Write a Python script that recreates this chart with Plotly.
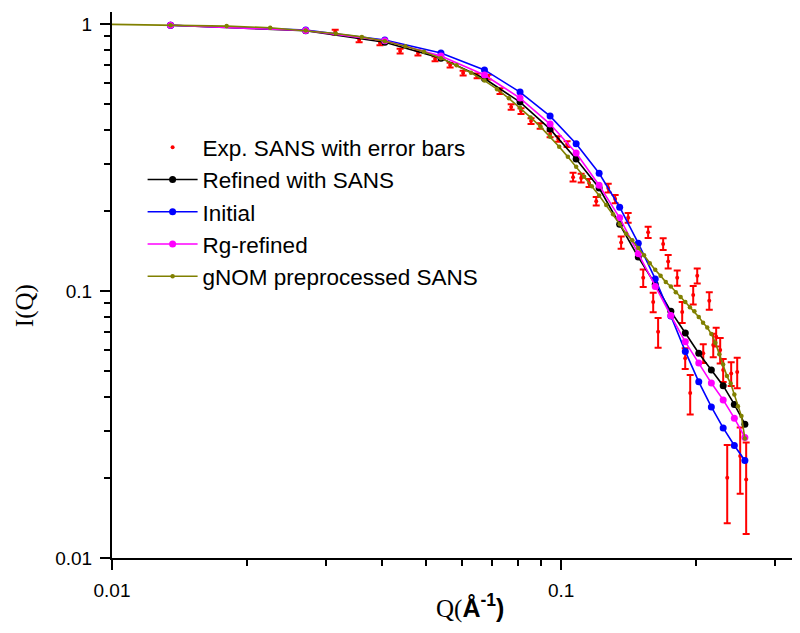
import plotly.graph_objects as go

# ---------------- data ----------------
q_exp = [0.0314, 0.0355, 0.0395, 0.0438, 0.0480, 0.0524, 0.0566, 0.0605, 0.0650, 0.0688,
         0.0731, 0.0774, 0.0814, 0.0857, 0.0898, 0.0945, 0.0985, 0.1031, 0.1063, 0.1108,
         0.1154, 0.1197, 0.1273, 0.1319, 0.1360, 0.1410, 0.1523, 0.1562, 0.1603, 0.1644,
         0.1687, 0.1731, 0.1813, 0.1860, 0.1889, 0.1938, 0.1968, 0.2009, 0.2072, 0.2137,
         0.2181, 0.2214, 0.2260, 0.2295, 0.2343, 0.2391, 0.2466, 0.2504, 0.2582]
i_exp = [0.933, 0.871, 0.849, 0.792, 0.779, 0.740, 0.702, 0.655, 0.639, 0.633,
         0.561, 0.489, 0.472, 0.433, 0.415, 0.387, 0.371, 0.355, 0.267, 0.265,
         0.254, 0.217, 0.243, 0.221, 0.152, 0.188, 0.112, 0.166, 0.0909, 0.0703,
         0.150, 0.129, 0.112, 0.0834, 0.0560, 0.0415, 0.0967, 0.114, 0.0585, 0.0920,
         0.0628, 0.0674, 0.0601, 0.0506, 0.0200, 0.0491, 0.0497, 0.0241, 0.0197]
err_exp = [0.019, 0.017, 0.017, 0.016, 0.016, 0.015, 0.014, 0.013, 0.013, 0.013,
           0.014, 0.012, 0.012, 0.011, 0.010, 0.010, 0.009, 0.009, 0.010, 0.010,
           0.009, 0.008, 0.009, 0.008, 0.008, 0.008, 0.0085, 0.008, 0.0077, 0.009,
           0.0075, 0.0075, 0.0073, 0.0075, 0.005, 0.007, 0.0077, 0.0074, 0.0047, 0.0069,
           0.0063, 0.0054, 0.0066, 0.005, 0.0065, 0.005, 0.0065, 0.0067, 0.0074]

q_model = [0.0135, 0.027, 0.0405, 0.054, 0.0675, 0.081, 0.0945, 0.108, 0.1215, 0.135,
           0.1485, 0.162, 0.1755, 0.189, 0.2025, 0.216, 0.2295, 0.243, 0.2565]
i_refined = [0.99, 0.943, 0.855, 0.745, 0.625, 0.51, 0.404, 0.312, 0.243, 0.178,
             0.134, 0.106, 0.0839, 0.0696, 0.0585, 0.0506, 0.0442, 0.0376, 0.0317]
i_initial = [0.99, 0.95, 0.871, 0.779, 0.673, 0.556, 0.452, 0.356, 0.276, 0.206,
             0.151, 0.111, 0.0806, 0.0594, 0.0457, 0.0368, 0.0307, 0.0264, 0.0232]
i_rg = [0.99, 0.945, 0.865, 0.759, 0.644, 0.528, 0.422, 0.329, 0.249, 0.188,
        0.138, 0.104, 0.0809, 0.0645, 0.0537, 0.0452, 0.0391, 0.0334, 0.0283]

q_gnom = [0.009, 0.0135, 0.018, 0.0225, 0.027, 0.0315, 0.036, 0.0405, 0.045, 0.0495,
          0.054, 0.0585, 0.063, 0.0675, 0.072, 0.0765, 0.081, 0.0855, 0.09, 0.0945,
          0.099, 0.1035, 0.108, 0.1125, 0.117, 0.1215, 0.126, 0.1305, 0.135, 0.1395,
          0.144, 0.1485, 0.153, 0.1575, 0.162, 0.1665, 0.171, 0.1755, 0.18, 0.1845,
          0.189, 0.1935, 0.198, 0.2025, 0.207, 0.2115, 0.216, 0.2205, 0.225, 0.2295,
          0.234, 0.2385, 0.243, 0.2475, 0.252, 0.2565]
i_gnom = [1.00, 0.99, 0.982, 0.968, 0.945, 0.922, 0.895, 0.862, 0.826, 0.788,
          0.745, 0.700, 0.657, 0.614, 0.570, 0.527, 0.486, 0.447, 0.412, 0.378,
          0.347, 0.318, 0.292, 0.268, 0.247, 0.228, 0.210, 0.194, 0.178, 0.164,
          0.155, 0.145, 0.136, 0.127, 0.120, 0.114, 0.108, 0.104, 0.099, 0.095,
          0.091, 0.087, 0.084, 0.080, 0.076, 0.073, 0.069, 0.064, 0.058, 0.053,
          0.048, 0.045, 0.041, 0.037, 0.034, 0.028]

x_major = [0.01, 0.1]
x_major_text = ["0.01", "0.1"]
x_minor = [0.02, 0.03, 0.04, 0.05, 0.06, 0.07, 0.08, 0.09, 0.2, 0.3]
y_major = [0.01, 0.1, 1]
y_major_text = ["0.01", "0.1", "1"]
y_minor = [0.02, 0.03, 0.04, 0.05, 0.06, 0.07, 0.08, 0.09,
           0.2, 0.3, 0.4, 0.5, 0.6, 0.7, 0.8, 0.9]

# ---------------- figure ----------------
fig = go.Figure()

fig.add_trace(go.Scatter(
    x=q_exp, y=i_exp, mode="markers", name="Exp. SANS with error bars",
    marker=dict(color="#FF0000", size=4),
    error_y=dict(type="data", array=err_exp, color="#FF0000", thickness=2, width=3.5),
))
fig.add_trace(go.Scatter(
    x=q_model, y=i_refined, mode="lines+markers", name="Refined with SANS",
    line=dict(color="#000000", width=1.6), marker=dict(color="#000000", size=7),
))
fig.add_trace(go.Scatter(
    x=q_model, y=i_initial, mode="lines+markers", name="Initial",
    line=dict(color="#0000FF", width=1.6), marker=dict(color="#0000FF", size=7),
))
fig.add_trace(go.Scatter(
    x=q_model, y=i_rg, mode="lines+markers", name="Rg-refined",
    line=dict(color="#FF00FF", width=1.6), marker=dict(color="#FF00FF", size=7),
))
fig.add_trace(go.Scatter(
    x=q_gnom, y=i_gnom, mode="lines+markers", name="gNOM preprocessed SANS",
    line=dict(color="#808000", width=1.6), marker=dict(color="#808000", size=4.5),
))

axis_common = dict(
    type="log", showgrid=False, zeroline=False, showline=True,
    linecolor="black", linewidth=2, ticks="outside", ticklen=10, tickwidth=2,
    tickcolor="black", mirror=False, ticklabelstandoff=4,
    tickfont=dict(family="Liberation Sans, Arial, sans-serif", size=19, color="black"),
)

fig.update_layout(
    width=800, height=633,
    margin=dict(l=104, r=16, t=4, b=83),
    paper_bgcolor="white", plot_bgcolor="white",
    showlegend=True,
    legend=dict(
        x=0.045, y=0.791, xanchor="left", yanchor="top",
        bgcolor="rgba(0,0,0,0)", borderwidth=0,
        font=dict(family="Liberation Sans, Arial, sans-serif", size=22.5, color="black"),
        tracegroupgap=0, itemwidth=50,
    ),
    xaxis=dict(
        **axis_common, range=[-2, -0.486],
        tickmode="array", tickvals=x_major, ticktext=x_major_text,
        minor=dict(tickmode="array", tickvals=x_minor, ticks="outside",
                   ticklen=6, tickwidth=2, tickcolor="black", showgrid=False),
    ),
    yaxis=dict(
        **axis_common, range=[-2, 0.045],
        tickmode="array", tickvals=y_major, ticktext=y_major_text,
        minor=dict(tickmode="array", tickvals=y_minor, ticks="outside",
                   ticklen=6, tickwidth=2, tickcolor="black", showgrid=False),
    ),
    annotations=[
        dict(text="I(Q)", xref="paper", yref="paper", x=-0.128, y=0.463,
             xanchor="center", yanchor="middle",
             textangle=-90, showarrow=False,
             font=dict(family="Liberation Serif, Times New Roman, serif", size=25, color="black")),
        dict(text='Q(<span style="font-family:Liberation Sans, Arial, sans-serif"><b>Å<sup>-1</sup>)</b></span>',
             xref="paper", yref="paper", x=0.526, y=-0.0897,
             xanchor="center", yanchor="middle",
             showarrow=False,
             font=dict(family="Liberation Serif, Times New Roman, serif", size=25, color="black")),
    ],
)

fig.write_html("out.html")
